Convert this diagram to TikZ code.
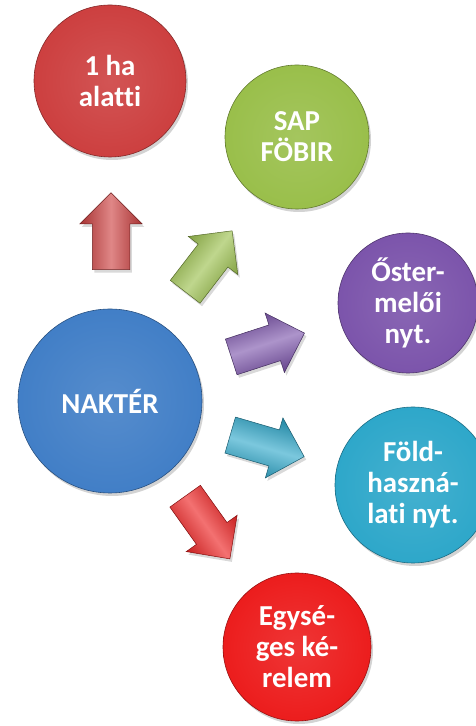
\documentclass[tikz,border=0pt]{standalone}
\usepackage{fontspec}
\setmainfont{Carlito}[Ligatures={NoCommon,TeX}]
\usetikzlibrary{shapes.arrows,shadows}

\definecolor{cRedA}{HTML}{CC3D3D}
\definecolor{cGreen}{HTML}{98BE48}
\definecolor{cPurple}{HTML}{7A52AA}
\definecolor{cBlue}{HTML}{3F7DC6}
\definecolor{cCyan}{HTML}{2BA6C9}
\definecolor{cRedB}{HTML}{EC1A1A}

\colorlet{rimin}{red}
\colorlet{rimout}{black}
\pgfdeclareradialshading[rimin,rimout]{rimshade}{\pgfpoint{0bp}{0bp}}{color(0bp)=(rimin!88!white); color(28bp)=(rimin); color(44bp)=(rimin!94!black); color(48bp)=(rimout); color(50bp)=(rimout)}

\tikzset{
  bubble/.style={circle, inner sep=0pt, minimum size=#1, text=white, align=center,
    font=\bfseries\fontsize{29}{31}\selectfont,
    drop shadow={opacity=0.35, shadow xshift=2bp, shadow yshift=-3bp}},
  bubcol/.style={/utils/exec={\colorlet{rimin}{#1}\colorlet{rimout}{#1!72!black}},
    shading=rimshade, draw=#1!65!black, line width=0.6bp},
  blockarrow/.style n args={2}{single arrow, anchor=tail, rotate=#2,
    inner xsep=0pt, inner ysep=18.5bp,
    minimum height=77bp, minimum width=62bp, single arrow head extend=12.5bp,
    single arrow head indent=0bp,
    top color=#1!82!black, bottom color=#1!82!black, middle color=#1!62!white,
    shading angle=#2,
    draw=#1!55!black, line width=0.5bp,
    drop shadow={opacity=0.3, shadow xshift=2bp, shadow yshift=-3bp}},
}

\begin{document}
\begin{tikzpicture}[x=1bp,y=1bp]
\useasboundingbox (0,0) rectangle (476,726);

% arrows
\coordinate (tA) at (111,456);
\coordinate (tB) at (185,434);
\coordinate (tC) at (231,369);
\coordinate (tD) at (230,291);
\coordinate (tE) at (185,230);
\node[blockarrow={cRedA}{90}] (aA) at (tA) {};
\node[blockarrow={cGreen}{52.4}] (aB) at (tB) {};
\node[blockarrow={cPurple}{18}] (aC) at (tC) {};
\node[blockarrow={cCyan}{-16.3}] (aD) at (tD) {};
\node[blockarrow={cRedB}{-54.5}] (aE) at (tE) {};

% circles
\node[bubble=152bp, bubcol=cRedA] (ha) at (110,645) {1 ha\\alatti};
\node[bubble=144bp, bubcol=cGreen] (sap) at (297,589) {SAP\\FÖBIR};
\node[bubble=140bp, bubcol=cPurple] (oster) at (408,423) {Őster-\\melői\\nyt.};
\node[bubble=184bp, bubcol=cBlue] (nakter) at (110,325) {NAKTÉR};
\node[bubble=156bp, bubcol=cCyan] (fold) at (413,241) {Föld-\\haszná-\\lati nyt.};
\node[bubble=148bp, bubcol=cRedB] (egy) at (297,79) {Egysé-\\ges ké-\\relem};
\end{tikzpicture}
\end{document}
